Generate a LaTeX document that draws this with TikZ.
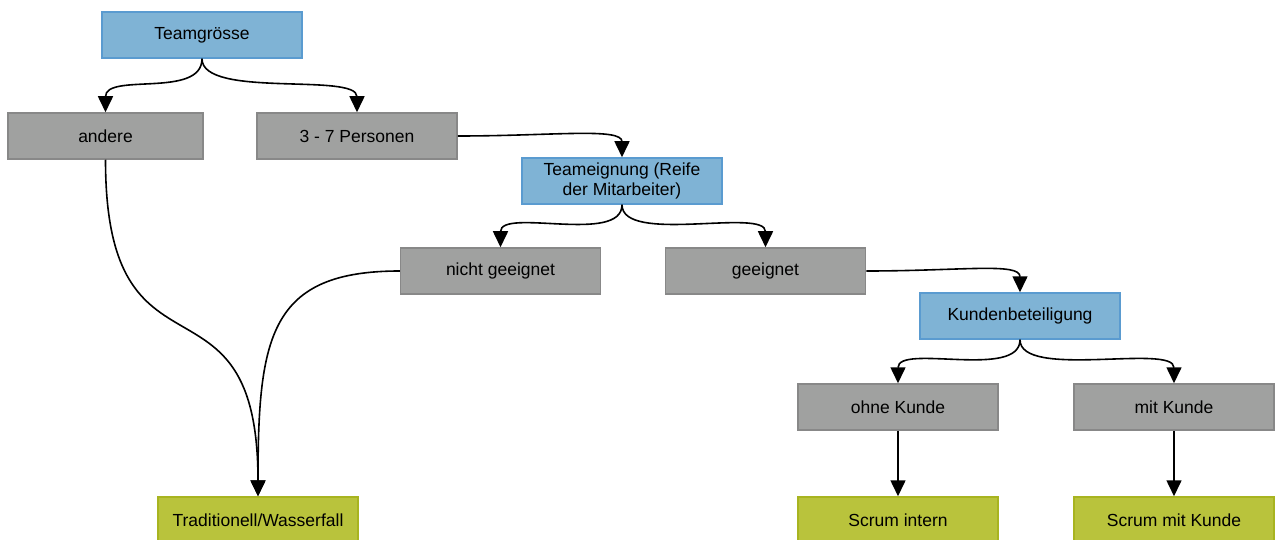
\documentclass[tikz,border=0pt]{standalone}
\usepackage{fontspec}
\setmainfont{Liberation Sans}
\usetikzlibrary{arrows.meta,calc}
\definecolor{bfill}{HTML}{7FB3D5}
\definecolor{bdraw}{HTML}{5A9BD0}
\definecolor{gfill}{HTML}{A0A1A0}
\definecolor{gdraw}{HTML}{888888}
\definecolor{yfill}{HTML}{B9C33C}
\definecolor{ydraw}{HTML}{A8B420}
\tikzset{
  box/.style={rectangle, minimum width=200pt, minimum height=46pt, line width=1.5pt, inner sep=2pt, align=center, font=\fontsize{17.5}{20}\selectfont, text=black},
  bluebox/.style={box, fill=bfill, draw=bdraw},
  graybox/.style={box, fill=gfill, draw=gdraw},
  greenbox/.style={box, fill=yfill, draw=ydraw},
  conn/.style={line width=1.6pt, -{Triangle[length=16pt,width=15pt]}},
}
\begin{document}
\begin{tikzpicture}[x=1pt,y=-1pt]
\useasboundingbox (0,0) rectangle (1280,540);
\node[bluebox] (team) at (202,35) {Teamgrösse};
\node[graybox, minimum width=195pt] (andere) at (105.5,136) {andere};
\node[graybox] (pers) at (357,136) {3 - 7 Personen};
\node[bluebox] (eign) at (622,181) {Teameignung (Reife\\der Mitarbeiter)};
\node[graybox] (nicht) at (500.5,271) {nicht geeignet};
\node[graybox] (geeig) at (765.5,271) {geeignet};
\node[bluebox] (kunde) at (1020,316) {Kundenbeteiligung};
\node[graybox] (ohne) at (898,407) {ohne Kunde};
\node[graybox] (mit) at (1174,407) {mit Kunde};
\node[greenbox] (trad) at (258,520) {Traditionell/Wasserfall};
\node[greenbox] (sint) at (898,520) {Scrum intern};
\node[greenbox] (smit) at (1174,520) {Scrum mit Kunde};

\draw[conn] (team.south) .. controls ($(team.south)+(0,40)$) and ($(andere.north)+(0,-40)$) .. (andere.north);
\draw[conn] (team.south) .. controls ($(team.south)+(0,40)$) and ($(pers.north)+(0,-40)$) .. (pers.north);
\draw[conn] (pers.east) .. controls ($(pers.east)+(95,0)$) and ($(eign.north)+(0,-30)$) .. (eign.north);
\draw[conn] (andere.south) .. controls ($(andere.south)+(0,240)$) and ($(trad.north)+(0,-240)$) .. (trad.north);
\draw[conn] (nicht.west) .. controls ($(nicht.west)+(-130,0)$) and ($(trad.north)+(0,-160)$) .. (trad.north);
\draw[conn] (eign.south) .. controls ($(eign.south)+(0,40)$) and ($(nicht.north)+(0,-40)$) .. (nicht.north);
\draw[conn] (eign.south) .. controls ($(eign.south)+(0,40)$) and ($(geeig.north)+(0,-40)$) .. (geeig.north);
\draw[conn] (geeig.east) .. controls ($(geeig.east)+(95,0)$) and ($(kunde.north)+(0,-30)$) .. (kunde.north);
\draw[conn] (kunde.south) .. controls ($(kunde.south)+(0,40)$) and ($(ohne.north)+(0,-40)$) .. (ohne.north);
\draw[conn] (kunde.south) .. controls ($(kunde.south)+(0,40)$) and ($(mit.north)+(0,-40)$) .. (mit.north);
\draw[conn] (ohne.south) -- (sint.north);
\draw[conn] (mit.south) -- (smit.north);
\end{tikzpicture}
\end{document}
